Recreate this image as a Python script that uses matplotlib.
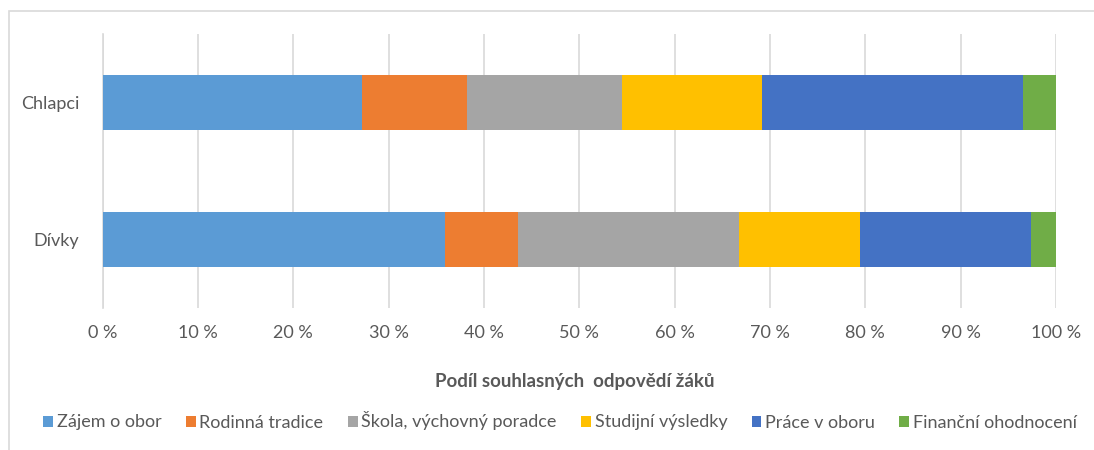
import matplotlib
matplotlib.use("Agg")
import matplotlib.pyplot as plt
import numpy as np
from matplotlib.patches import Rectangle

plt.rcParams['font.family'] = ['Lato', 'DejaVu Sans']

categories = ["Dívky", "Chlapci"]
series_names = ["Zájem o obor", "Rodinná tradice", "Škola, výchovný poradce",
                "Studijní výsledky", "Práce v oboru", "Finanční ohodnocení"]
zajem = [35.9, 27.2]
rodinna = [7.7, 11.0]
skola = [23.1, 16.3]
studijni = [12.7, 14.7]
prace = [18.0, 27.3]
financni = [2.6, 3.5]
series_values = [zajem, rodinna, skola, studijni, prace, financni]
colors = ["#5B9BD5", "#ED7D31", "#A5A5A5", "#FFC000", "#4472C4", "#70AD47"]
xticks = list(range(0, 101, 10))
xtick_labels = [f"{t} %" for t in xticks]

fig = plt.figure(figsize=(10.94, 4.5), dpi=100)
ax = fig.add_axes([102.7/1094, 1-308/450, (1056-102.7)/1094, (308-34)/450])

y = np.arange(len(categories))
left = np.zeros(len(categories))
handles = []
for name, vals, c in zip(series_names, series_values, colors):
    vals = np.array(vals, dtype=float)
    b = ax.barh(y, vals, left=left, height=0.40, color=c, label=name, zorder=3)
    left += vals
    handles.append(b)

ax.set_xlim(0, 100)
ax.set_ylim(-0.5, 1.5)
ax.set_xticks(xticks)
ax.set_xticklabels(xtick_labels)
ax.set_yticks(y)
ax.set_yticklabels(categories)
ax.tick_params(axis='both', length=0, labelsize=13, colors="#595959")
ax.tick_params(axis='x', pad=12)
ax.tick_params(axis='y', pad=17)
ax.grid(axis='x', color="#D9D9D9", linewidth=1.2, zorder=0)
for s in ['top', 'right', 'bottom']:
    ax.spines[s].set_visible(False)
ax.spines['left'].set_color("#D9D9D9")
ax.spines['left'].set_linewidth(1.2)
ax.set_axisbelow(True)

fig.text(575/1094, 1-382/450, "Podíl souhlasných  odpovědí žáků", ha='center', va='center',
         fontsize=13.5, fontweight='bold', color="#595959")

leg = fig.legend(handles=handles, labels=series_names, loc='center', ncol=6,
                 bbox_to_anchor=(560/1094, 1-421/450), frameon=False,
                 fontsize=13, handlelength=0.55, handleheight=0.55, handletextpad=0.2,
                 columnspacing=1.35, labelcolor="#595959")

# outer chart border (partially visible)
fig.patches.append(Rectangle((9/1094, -0.1), 1.2, 1-11/450+0.1, transform=fig.transFigure,
                             fill=False, edgecolor="#D9D9D9", linewidth=1.2))

fig.savefig("out.png", dpi=100)
